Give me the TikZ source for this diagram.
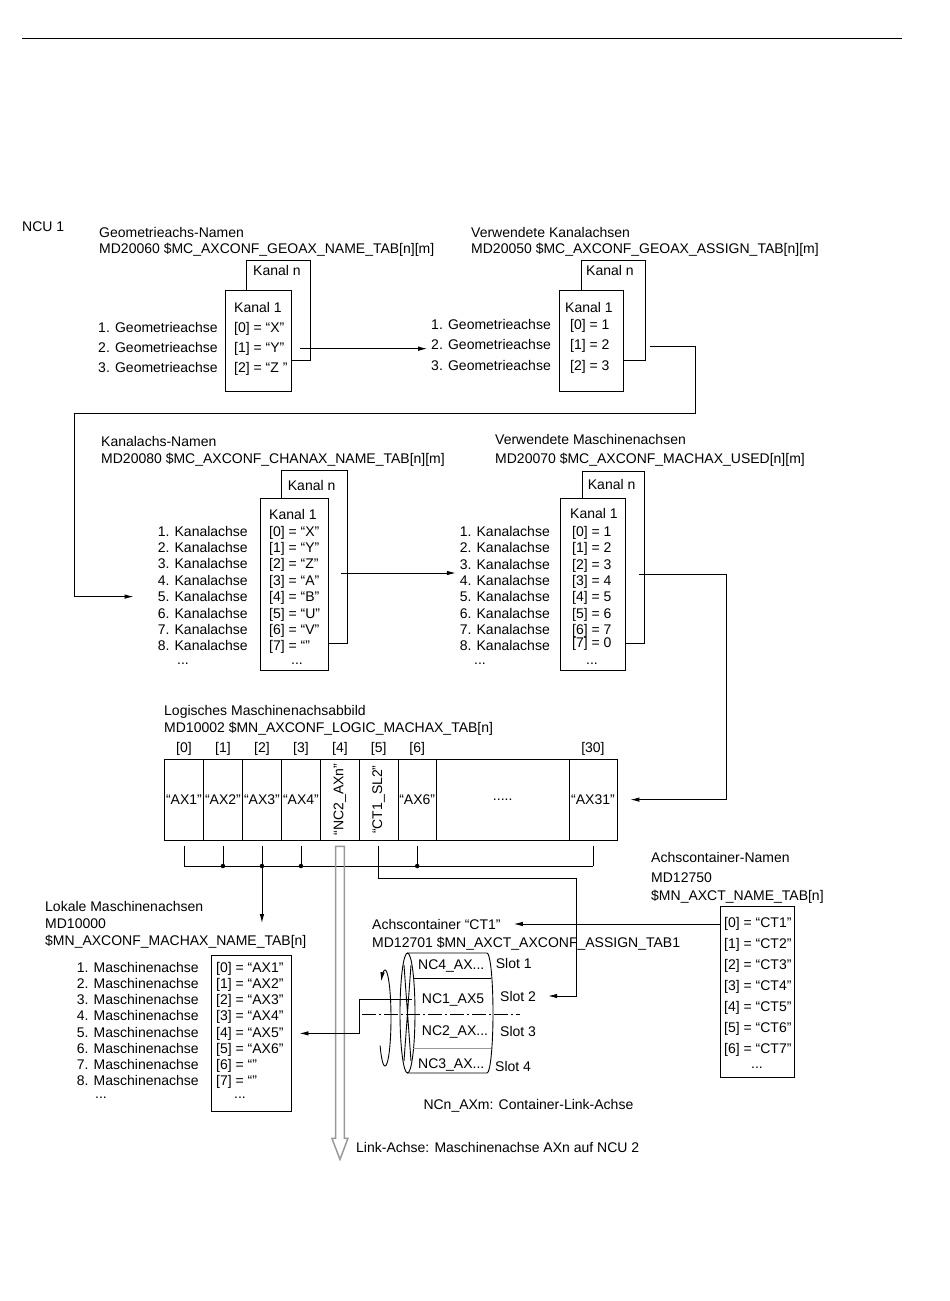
\documentclass[tikz,border=0pt]{standalone}
\usepackage{fontspec}
\setmainfont{Liberation Sans}
\usetikzlibrary{arrows.meta}
\tikzset{
  ln/.style={draw=black,line width=0.9pt},
  ->/.style={ln,-{Latex[length=9pt,width=4.5pt]}},
  txt/.style={anchor=base west,inner sep=0pt},
  rtxt/.style={anchor=base east,inner sep=0pt},
  ctxt/.style={anchor=base,inner sep=0pt},
  panel/.style={ln,fill=white,inner sep=0pt},
  cell/.style={ln,inner sep=0pt,minimum height=80.7pt},
  dot/.style={circle,fill=black,inner sep=0pt,minimum size=4.5pt},
  hollow/.style={draw=black!40,line width=1.5pt},
  axis/.style={draw=black,line width=0.7pt,dash pattern=on 14pt off 3pt on 2pt off 3pt}
}
\tikzstyle{every node}=[font=\fontsize{14}{16}\selectfont]

\begin{document}
\begin{tikzpicture}[x=1pt,y=-1pt]
    \useasboundingbox (0,0) rectangle (950,1301);
    \draw[ln] (22,38) -- (902,38);
    \node[txt] (ncu) at (22,231.5) {NCU 1};

    \node[txt] (geoT) at (99,237.5) {Geometrieachs-Namen};
    \node[txt] (geoM) at (99,253) {MD20060 \$MC\_AXCONF\_GEOAX\_NAME\_TAB[n][m]};
    \node[panel,minimum width=64pt,minimum height=100pt] (geoB) at (278.7,310.8) {};
    \node[panel,minimum width=66pt,minimum height=101pt] (geoF) at (258.7,340.5) {};
    \node[txt] (geoKn) at (253,275) {Kanal n};
    \node[txt] (geoK1) at (234,312) {Kanal 1};
    \foreach \t [count=\i from 0] in {“X”,“Y”,“Z\ ”}
        \node[txt] (geoV\i) at (234,{332+20.3*\i}) {[\i] = \t};
    \foreach \i in {1,2,3}
        \node[rtxt] (geoL\i) at (218,{311.7+20.3*\i}) {\i. Geometrieachse};

    \node[txt] (kaT) at (471,237.5) {Verwendete Kanalachsen};
    \node[txt] (kaM) at (471,253) {MD20050 \$MC\_AXCONF\_GEOAX\_ASSIGN\_TAB[n][m]};
    \node[panel,minimum width=64.4pt,minimum height=100pt] (kaB) at (613.5,310.8) {};
    \node[panel,minimum width=64pt,minimum height=101pt] (kaF) at (591.3,340.5) {};
    \node[txt] (kaKn) at (586,275) {Kanal n};
    \node[txt] (kaK1) at (565,312) {Kanal 1};
    \foreach \i/\v in {0/1,1/2,2/3} {
        \node[txt] (kaV\i) at (570,{329.3+20.5*\i}) {[\i] = \v};
        \node[rtxt] (kaL\v) at (551,{329.3+20.5*\i}) {\v. Geometrieachse};
    }

    \node[txt] (chT) at (101,446) {Kanalachs-Namen};
    \node[txt] (chM) at (101,463) {MD20080 \$MC\_AXCONF\_CHANAX\_NAME\_TAB[n][m]};
    \node[panel,minimum width=65.6pt,minimum height=172.6pt] (chB) at (314.5,557) {};
    \node[panel,minimum width=68.3pt,minimum height=171.7pt] (chF) at (294.15,584.15) {};
    \node[txt] (chKn) at (287.7,490) {Kanal n};
    \node[txt] (chK1) at (269,519) {Kanal 1};
    \foreach \t [count=\i from 0] in {X,Y,Z,A,B,U,V,{}}
        \node[txt] (chV\i) at (269,{536+16.4*\i}) {[\i] = “\t”};
    \foreach \i in {1,...,8}
        \node[rtxt] (chL\i) at (248,{519.6+16.4*\i}) {\i. Kanalachse};
    \node[ctxt] (chVe) at (297,664) {...};
    \node[ctxt] (chLe) at (183,664) {...};
    \coordinate (chIn) at ([xshift=-24pt]chL5.west);

    \node[txt] (maT) at (495,444) {Verwendete Maschinenachsen};
    \node[txt] (maM) at (495,463) {MD20070 \$MC\_AXCONF\_MACHAX\_USED[n][m]};
    \node[panel,minimum width=61.3pt,minimum height=171.6pt] (maB) at (613.35,557.5) {};
    \node[panel,minimum width=65.3pt,minimum height=171.7pt] (maF) at (592.65,584.15) {};
    \node[txt] (maKn) at (587.7,489) {Kanal n};
    \node[txt] (maK1) at (570,518) {Kanal 1};
    \foreach \i/\v in {0/1,1/2,2/3,3/4,4/5,5/6,6/7}
        \node[txt] (maV\i) at (572,{536.5+16.33*\i}) {[\i] = \v};
    \node[txt] (maV7) at (572,647.7) {[7] = 0};
    \foreach \i in {1,...,8}
        \node[rtxt] (maL\i) at (550,{520.2+16.33*\i}) {\i. Kanalachse};
    \node[ctxt] (maVe) at (592,664) {...};
    \node[ctxt] (maLe) at (480,664) {...};

    \node[txt] (loT) at (164,715.5) {Logisches Maschinenachsabbild};
    \node[txt] (loM) at (164,732.5) {MD10002 \$MN\_AXCONF\_LOGIC\_MACHAX\_TAB[n]};
    \foreach \n/\l/\w/\t in {c0/164/39/“AX1”,c1/203/39/“AX2”,c2/242/39/“AX3”,c3/281/39/“AX4”,
        c4/320/39/{},c5/359/38.5/{},c6/397.5/38.5/“AX6”,c30/568.5/48/“AX31”}
        \node[cell,anchor=west,minimum width=\w pt] (\n) at (\l,799.6) {\t};
    \node[cell,anchor=west,minimum width=132.5pt] (cd) at (436,799.6) {.....};
    \node[rotate=90,inner sep=0pt] (n4) at (c4) {“NC2\_AXn”};
    \node[rotate=90,inner sep=0pt] (n5) at (c5) {“CT1\_SL2”};
    \foreach \c/\t in {c0/0,c1/1,c2/2,c3/3,c4/4,c5/5,c6/6,c30/30}
        \node[ctxt] (i\c) at (\c.north |- 0,752) {[\t]};
    \coordinate (tabIn) at ([xshift=13pt]c30.east);

    \coordinate (busY) at (0,866);
    \foreach \c in {c0,c1,c2,c3,c6,c30}
        \draw[ln] ([yshift=-6pt]\c.south) -- (\c.south |- busY);
    \draw[ln] (c0.south |- busY) -- (c30.south |- busY);
    \foreach \c in {c1,c2,c3,c6}
        \node[dot] (d\c) at (\c.south |- busY) {};
    \draw[hollow] ([xshift=-4.3pt,yshift=-6pt]c4.south) -- ++(8.6,0) -- ++(0,292) -- ++(3.7,0)
        -- ++(-8,21) -- ++(-8,-21) -- ++(3.7,0) -- cycle;
    \node[txt] (lkT) at (356,1152) {Link-Achse: Maschinenachse AXn auf NCU 2};

    \node[txt] (lmT) at (45,911.5) {Lokale Maschinenachsen};
    \node[txt] (lmM) at (45,928) {MD10000};
    \node[txt] (lmN) at (45,945.5) {\$MN\_AXCONF\_MACHAX\_NAME\_TAB[n]};
    \node[ln,inner sep=0pt,minimum width=80pt,minimum height=156pt] (lmB) at (251,1033.7) {};
    \foreach \t [count=\i from 0] in {“AX1”,“AX2”,“AX3”,“AX4”,“AX5”,“AX6”,“”,“”}
        \node[txt] (lmV\i) at (216,{972+16.25*\i}) {[\i] = \t};
    \foreach \i in {1,...,8}
        \node[rtxt] (lmL\i) at (199,{955.75+16.25*\i}) {\i. Maschinenachse};
    \node[ctxt] (lmVe) at (240,1098) {...};
    \node[ctxt] (lmLe) at (101,1098) {...};
    \coordinate (lmIn) at (lmB.east |- lmV4);

    \node[txt] (ctT) at (372,929) {Achscontainer “CT1”};
    \node[txt] (ctM) at (372,947) {MD12701 \$MN\_AXCT\_AXCONF\_ASSIGN\_TAB1};
    \draw[ln] (407.5,1013) ellipse [x radius=7.5pt,y radius=60pt];
    \draw[ln] (404,965) -- (411,1061) (411,965) -- (404,1061);
    \draw[ln] (407.5,953) -- (487,953) arc[start angle=90,end angle=-90,x radius=6pt,y radius=60pt] -- (407.5,1073);
    \draw[ln] (413,978) -- (491,978);
    \draw[ln,draw=black!40] (413,1048) -- (491,1048);
    \draw[axis] (362,1014) -- (520,1014);
    \draw[->] plot[smooth,domain=215:490,samples=40] ({385+6*cos(\x)},{1018-48*sin(\x)});
    \node[txt] (nc4) at (418,969) {NC4\_AX...};
    \node[txt] (nc1) at (421.7,1003) {NC1\_AX5};
    \node[txt] (nc2) at (421.7,1035) {NC2\_AX...};
    \node[txt] (nc3) at (418,1068) {NC3\_AX...};
    \node[txt] (sl1) at (495.7,968) {Slot 1};
    \node[txt] (sl2) at (500,1001) {Slot 2};
    \node[txt] (sl3) at (500,1036) {Slot 3};
    \node[txt] (sl4) at (495,1071) {Slot 4};
    \node[txt] (ctL) at (423.3,1109) {NCn\_AXm: Container-Link-Achse};
    \coordinate (slotIn) at ([xshift=12pt]sl2.east);
    \coordinate (ctX) at (576,878);

    \node[txt] (anT) at (651,862) {Achscontainer-Namen};
    \node[txt] (anM) at (651,882.5) {MD12750};
    \node[txt] (anN) at (651,900) {\$MN\_AXCT\_NAME\_TAB[n]};
    \node[ln,inner sep=0pt,minimum width=74pt,minimum height=170.3pt] (anB) at (757,991.85) {};
    \foreach \k [count=\i from 0] in {1,2,3,4,5,6,7}
        \node[txt] (anV\i) at (724,{927+21*\i}) {[\i] = “CT\k”};
    \node[ctxt] (anVe) at (757,1068) {...};

    \draw[->] (geoF.east |- geoV1) ++(8,0) -- ++(127,0);
    \draw[->] (kaB.east |- kaV1) ++(4,0) -- ++(45,0) |- (74,413) |- (chIn);
    \draw[->] (chF.east |- 0,573) ++(12,0) -- ++(115,0);
    \draw[->] (maF.east |- 0,574) ++(13,0) -- ++(88,0) |- (tabIn);
    \draw[->] (dc2) -- ++(0,57);
    \draw[->] ([yshift=-6pt]c5.south) |- (ctX) |- (slotIn);
    \draw[->] (anB.west |- ctT) -- ([xshift=13pt]ctT.east);
    \draw[->] ([xshift=-10pt]nc1.west) -- ++(-52,0) |- ([xshift=8pt]lmIn);
\end{tikzpicture}
\end{document}
